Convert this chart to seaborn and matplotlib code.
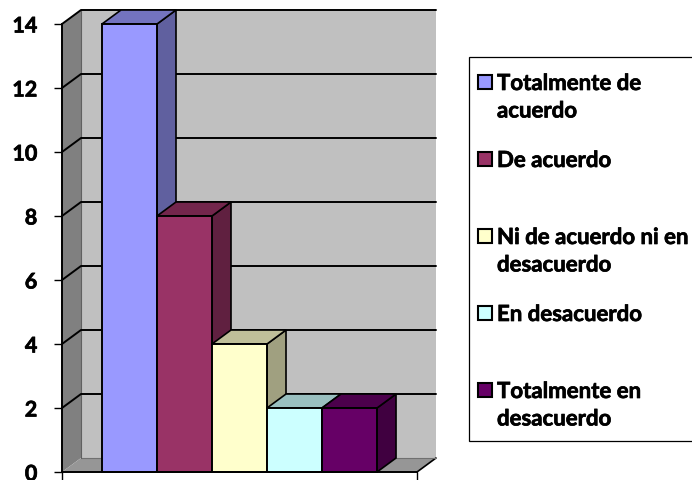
import matplotlib
matplotlib.use('Agg')
import matplotlib.pyplot as plt
from matplotlib.patches import Rectangle
import matplotlib.patheffects as pe
import pandas as pd
import seaborn as sns

categories = ['Totalmente de\nacuerdo', 'De acuerdo', 'Ni de acuerdo ni en\ndesacuerdo',
              'En desacuerdo', 'Totalmente en\ndesacuerdo']
values = [14, 8, 4, 2, 2]
colors = ['#9999FF', '#993366', '#FFFFCC', '#CCFFFF', '#660066']
side_colors = ['#60609F', '#602040', '#A0A080', '#80A0A0', '#400040']
top_colors = ['#7373BF', '#73264C', '#BFBF99', '#99BFBF', '#4C004C']
yticks = [0, 2, 4, 6, 8, 10, 12, 14]

W, H = 692, 480
sns.set_style('white')
plt.rcParams['font.family'] = ['Lato', 'DejaVu Sans']
thick = [pe.withStroke(linewidth=0.5, foreground='black')]

fig = plt.figure(figsize=(W / 100, H / 100), dpi=100)
ax = fig.add_axes([62 / W, (H - 472) / H, 355 / W, 448 / H])

df = pd.DataFrame({'cat': categories, 'val': values})
sns.barplot(data=df, x='cat', y='val', hue='cat', palette=colors, width=1, saturation=1,
            legend=False, edgecolor='black', linewidth=1.4, ax=ax)
bars = list(ax.patches)

xmin, xmax = -1.227, 5.227
ymax = yticks[-1]
ax.set_xlim(xmin, xmax)
ax.set_ylim(0, ymax)
dx, dy = 19 / 55, 14 / 32   # depth of the 3d box, in data units

# walls and floor
ax.fill([xmin + dx, xmax + dx, xmax + dx, xmin + dx], [dy, dy, ymax + dy, ymax + dy],
        color='#C0C0C0', lw=0, zorder=1, clip_on=False)
ax.fill([xmin, xmin + dx, xmin + dx, xmin], [0, dy, ymax + dy, ymax],
        color='#808080', lw=0, zorder=1, clip_on=False)
ax.fill([xmin, xmax, xmax + dx, xmin + dx], [0, 0, dy, dy],
        color='#969696', lw=0, zorder=1, clip_on=False)
ax.plot([xmax, xmax + dx], [0, dy], color='black', lw=1.2, zorder=2, clip_on=False)
ax.plot([xmin + dx, xmax + dx], [dy, dy], color='#707070', lw=0.8, zorder=2, clip_on=False)
ax.plot([xmin + dx, xmin + dx], [dy, ymax + dy], color='#606060', lw=0.8, zorder=2, clip_on=False)

# gridlines on the back and left walls
for t in yticks[1:]:
    ax.plot([xmin, xmin + dx, xmax + dx], [t, t + dy, t + dy], color='black', lw=1.4,
            zorder=2, clip_on=False)

# 3d sides of the bars, painted left to right
for i, p in enumerate(bars):
    x0, w, h = p.get_x(), p.get_width(), p.get_height()
    x1 = x0 + w
    z = 3 + i
    ax.fill([x1, x1 + dx, x1 + dx, x1], [0, dy, h + dy, h], facecolor=side_colors[i],
            edgecolor='black', lw=1.2, zorder=z, clip_on=False)
    ax.fill([x0, x1, x1 + dx, x0 + dx], [h, h, h + dy, h + dy], facecolor=top_colors[i],
            edgecolor='black', lw=1.2, zorder=z, clip_on=False)
    p.set_zorder(z + 0.5)
    p.set_clip_on(False)

sns.despine(ax=ax, top=True, right=True)
for s in ['left', 'bottom']:
    ax.spines[s].set_linewidth(1.4)
    ax.spines[s].set_color('black')
    ax.spines[s].set_zorder(20)
ax.set_xlabel('')
ax.set_ylabel('')
ax.set_xticks([xmin, xmax])
ax.set_xticklabels([])
ax.set_yticks(yticks)
ax.set_yticklabels(yticks, fontsize=15.5, fontweight='bold', color='black', path_effects=thick)
ax.tick_params(axis='both', length=5.8, width=1, color='black', bottom=True, left=True)
ax.tick_params(axis='y', pad=12)

# legend box
fig.add_artist(Rectangle((469 / W, (H - 441) / H), 240 / W, 384 / H, transform=fig.transFigure,
                         facecolor='white', edgecolor='black', lw=0.9))
for i, lab in enumerate(categories):
    y = 82 + 77 * i
    fig.add_artist(Rectangle((478 / W, (H - y - 7) / H), 14 / W, 14 / H, transform=fig.transFigure,
                             facecolor=colors[i], edgecolor='black', lw=1.5))
    fig.text(497 / W, (H - y + 9) / H, lab, fontsize=16, fontweight='bold', va='top',
             ha='left', linespacing=1.38, color='black', path_effects=thick)

fig.savefig('out.png', dpi=100)
